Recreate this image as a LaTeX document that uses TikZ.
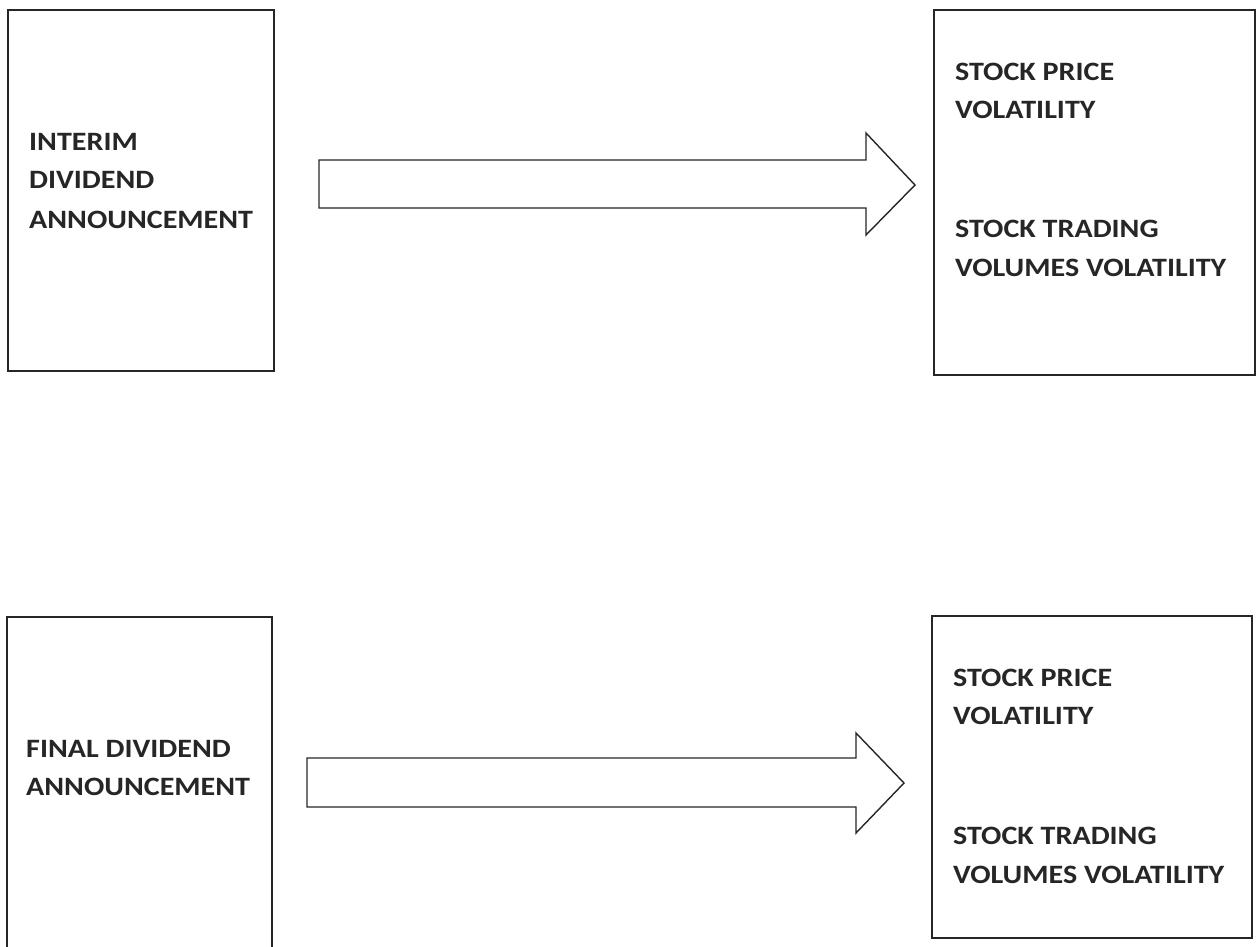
\documentclass[tikz,border=0pt]{standalone}
\usepackage{fontspec}
\setmainfont{Carlito}
\newfontfamily\lblfont[FakeStretch=1.135]{Carlito}
\tikzset{
  box/.style={draw=black!85, line width=1.3pt},
  blockarrow/.style={draw=black!85, line width=1.4pt, line join=miter, fill=white},
  lbl/.style={anchor=base west, inner sep=0pt, font=\lblfont\fontsize{26.5}{39}\selectfont\bfseries, text=black!85}
}
\begin{document}
\begin{tikzpicture}[x=1pt,y=-1pt]
\useasboundingbox (0,0) rectangle (1258,946);
\clip (0,0) rectangle (1258,946);
% boxes
\draw[box] (8,10) rectangle (274,371);
\draw[box] (934,10) rectangle (1255,375);
\draw[box] (7,617) rectangle (272,950);
\draw[box] (932,616) rectangle (1252,938);
% top-left text
\node[lbl] (t1) at (29,150) {INTERIM};
\node[lbl] (t2) at (29,188) {DIVIDEND};
\node[lbl] (t3) at (29,228) {ANNOUNCEMENT};
% top-right text
\node[lbl] (r1) at (955,80) {STOCK PRICE};
\node[lbl] (r2) at (955,118) {VOLATILITY};
\node[lbl] (r3) at (955,237) {STOCK TRADING};
\node[lbl] (r4) at (955,276) {VOLUMES VOLATILITY};
% bottom-left text
\node[lbl] (b1) at (26,757) {FINAL DIVIDEND};
\node[lbl] (b2) at (26,795) {ANNOUNCEMENT};
% bottom-right text
\node[lbl] (s1) at (953,686) {STOCK PRICE};
\node[lbl] (s2) at (953,724) {VOLATILITY};
\node[lbl] (s3) at (953,844) {STOCK TRADING};
\node[lbl] (s4) at (953,883) {VOLUMES VOLATILITY};
% block arrows
\draw[blockarrow] (319,160) -- (866,160) -- (866,133) -- (915,185) -- (866,235) -- (866,208) -- (319,208) -- cycle;
\draw[blockarrow] (307,758) -- (856,758) -- (856,733) -- (904,783) -- (856,833) -- (856,807) -- (307,807) -- cycle;
\end{tikzpicture}
\end{document}
